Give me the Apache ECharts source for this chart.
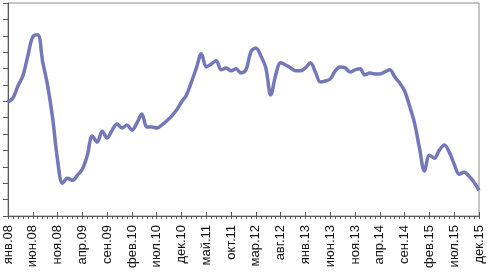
<!DOCTYPE html>
<html><head><meta charset="utf-8">
<script src="https://cdn.jsdelivr.net/npm/echarts@6/dist/echarts.min.js"></script>
<style>html,body{margin:0;padding:0;background:#fff}#c{width:490px;height:278px}</style>
</head><body><div id="c"></div>
<script>
const monthNames = ['янв','фев','мар','апр','май','июн','июл','авг','сен','окт','ноя','дек'];
const years = ['08','09','10','11','12','13','14','15'];
const categories = [];
years.forEach(y => monthNames.forEach(m => categories.push(m + '.' + y)));

const values = [
  69.6, 72.0, 79.4, 85.5, 97.7, 109.4, 110.6, 94.1, 79.4, 59.8, 34.1, 20.0,
  23.1, 21.8, 24.9, 28.6, 37.1, 48.8, 45.1, 51.8, 47.6, 52.4, 56.1, 53.7,
  55.5, 52.4, 56.7, 62.2, 54.3, 54.3, 53.7, 55.5, 58.0, 61.0, 64.7, 69.6,
  73.9, 81.8, 90.4, 99.0, 91.0, 92.8, 94.7, 89.2, 90.4, 88.6, 89.8, 87.3,
  89.2, 100.2, 102.6, 97.7, 90.4, 73.9, 86.1, 93.5, 92.2, 90.4, 88.6, 88.6,
  90.4, 93.5, 87.9, 81.8, 82.4, 83.7, 88.6, 91.0, 90.4, 87.9, 89.2, 89.8,
  86.1, 87.3, 86.7, 86.7, 87.9, 89.2, 84.9, 81.2, 76.3, 67.1, 56.7, 41.4,
  27.4, 37.1, 35.3, 40.2, 43.3, 39.0, 31.6, 25.5, 26.7, 24.3, 20.6, 15.7
];

const yMin = 0, yMax = 130, yStep = 10;

const chart = echarts.init(document.getElementById('c'));
const axisColor = '#5a5a5a';
chart.setOption({
  animation: false,
  grid: { left: 8, right: 11, top: 3, bottom: 62, show: true, borderColor: '#8c8c8c', borderWidth: 1 },
  xAxis: [{
    type: 'category', data: categories, boundaryGap: false, position: 'bottom',
    axisLine: { lineStyle: { color: axisColor, width: 1 } },
    axisTick: { show: true, interval: 0, length: 3, lineStyle: { color: axisColor } },
    axisLabel: { interval: 4, rotate: 90, margin: 9, fontSize: 13, color: '#111', fontFamily: 'Liberation Sans, Arial, sans-serif' },
    splitLine: { show: false }
  }, {
    type: 'category', data: categories, boundaryGap: false, position: 'bottom',
    axisLine: { show: false },
    axisTick: { show: true, interval: 4, inside: true, length: 4, lineStyle: { color: axisColor } },
    axisLabel: { show: false },
    splitLine: { show: false }
  }],
  yAxis: {
    type: 'value', min: yMin, max: yMax, interval: yStep,
    axisLine: { show: true, lineStyle: { color: axisColor, width: 1 } },
    axisTick: { show: true, length: 5, lineStyle: { color: axisColor } },
    axisLabel: { show: false },
    splitLine: { show: false }
  },
  series: [{
    type: 'line', data: values, xAxisIndex: 0, smooth: 0.35, symbol: 'none',
    lineStyle: { color: '#7478bb', width: 3.5 }
  }]
});
</script></body></html>
